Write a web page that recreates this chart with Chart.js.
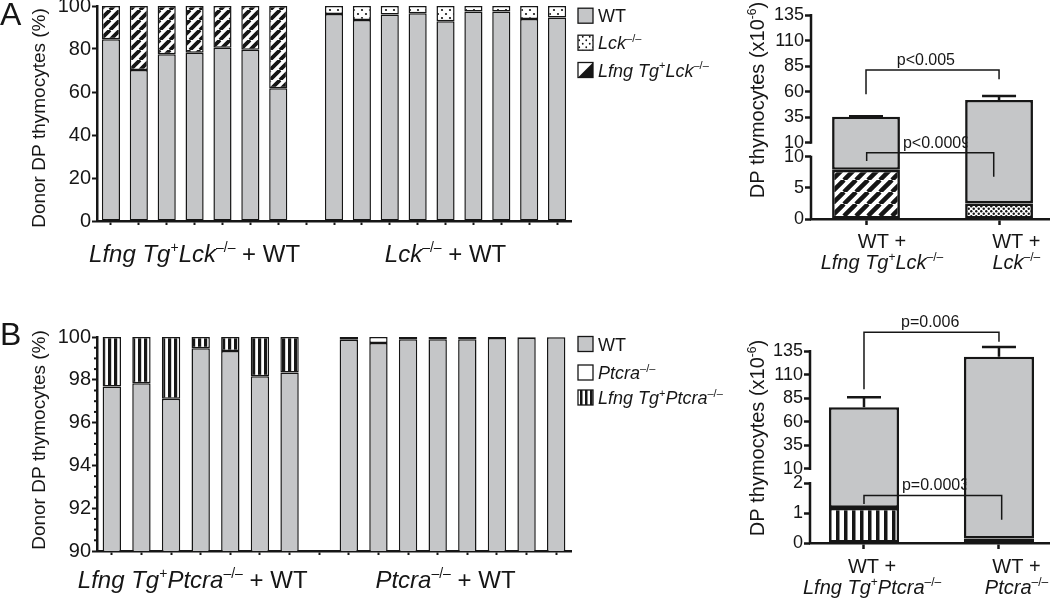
<!DOCTYPE html>
<html>
<head>
<meta charset="utf-8">
<title>Donor DP thymocytes</title>
<script src="https://cdn.jsdelivr.net/npm/chart.js@4.4.1/dist/chart.umd.min.js"></script>
<style>
  html, body { margin: 0; padding: 0; background: #fff; }
  #fig { position: relative; width: 1050px; height: 601px; overflow: hidden; }
  #fig canvas { position: absolute; }
</style>
</head>
<body>
<div id="fig">
  <canvas id="aLeft" width="760" height="290" style="left:0;top:0"></canvas>
  <canvas id="aRight" width="350" height="290" style="left:700px;top:0"></canvas>
  <canvas id="bLeft" width="760" height="311" style="left:0;top:290px"></canvas>
  <canvas id="bRight" width="350" height="311" style="left:700px;top:290px"></canvas>
</div>
<script>
// ---- panel A, left: % of donor DP thymocytes per mouse ----
const miceA = ['L1', 'L2', 'L3', 'L4', 'L5', 'L6', 'L7', '', 'K1', 'K2', 'K3', 'K4', 'K5', 'K6', 'K7', 'K8', 'K9'];
const wtLfngLck = [84.5, 70.2, 77.6, 78.3, 80.6, 79.6, 61.8];
const lfngLck = [15.5, 29.8, 22.4, 21.7, 19.4, 20.4, 38.2];
const wtLck = [96.3, 93.5, 96.0, 96.6, 92.9, 97.5, 97.5, 93.9, 94.6];
const lck = [3.7, 6.5, 4.0, 3.4, 7.1, 2.5, 2.5, 6.1, 5.4];

// ---- panel B, left ----
const miceB = ['L1', 'L2', 'L3', 'L4', 'L5', 'L6', 'L7', '', 'P1', 'P2', 'P3', 'P4', 'P5', 'P6', 'P7', 'P8'];
const wtLfngPtcra = [97.69, 97.84, 97.11, 99.47, 99.34, 98.17, 98.34];
const lfngPtcra = [2.31, 2.16, 2.89, 0.53, 0.66, 1.83, 1.66];
const wtPtcra = [99.87, 99.72, 99.9, 99.9, 99.9, 99.95, 99.97, 99.99];
const ptcra = [0.13, 0.28, 0.1, 0.1, 0.1, 0.05, 0.03, 0.01];

// ---- right panels: DP thymocyte numbers (x10^-6) ----
const xPos = [0, 1];
const wtCountA = [27.5, 49.3];
const lfngLckCount = [7.9, null];
const lckCount = [null, 2.5];
const errA = [0.4, 3.9];
const lowerTicksA = [0, 5, 10];
const upperTicksA = [10, 35, 60, 85, 110, 135];

const wtCountB = [74.2, 128.8];
const lfngPtcraCount = [1.17, null];
const ptcraCount = [null, 0.15];
const errB = [10.5, 10.2];
const lowerTicksB = [0, 1, 2];
const upperTicksB = [10, 35, 60, 85, 110, 135];

const FONT = '"Liberation Sans", Arial, Helvetica, sans-serif';
const GREY = '#c5c6c8';
const INK = '#161616';

Chart.defaults.font.family = FONT;
Chart.defaults.color = INK;
Chart.defaults.animation = false;

// y scale with a break: a lower and an upper linear piece
class BrokenScale extends Chart.LinearScale {
  segPixel(v, seg) {
    const s = this.options[seg];
    const h = this.bottom - this.top;
    if (seg === 'lower') return this.bottom - (v - s.min) / (s.max - s.min) * s.frac * h;
    return this.top + (s.max - v) / (s.max - s.min) * s.frac * h;
  }
  getPixelForValue(v) {
    const lo = this.options.lower, up = this.options.upper;
    if (v <= lo.max) return this.segPixel(v, 'lower');
    if (v >= up.min) return this.segPixel(v, 'upper');
    const a = this.segPixel(lo.max, 'lower'), b = this.segPixel(up.min, 'upper');
    return a + (b - a) * (v - lo.max) / (up.min - lo.max);
  }
  getPixelForTick(i) {
    const t = this.ticks[i];
    if (!t) return null;
    return t.seg ? this.segPixel(t.value, t.seg) : this.getPixelForValue(t.value);
  }
}
BrokenScale.id = 'broken';
BrokenScale.defaults = Chart.LinearScale.defaults;
Chart.register(BrokenScale);

function hatch(period, lw) {
  const c = document.createElement('canvas');
  c.width = c.height = period;
  const g = c.getContext('2d');
  g.fillStyle = '#fff';
  g.fillRect(0, 0, period, period);
  g.strokeStyle = INK;
  g.lineWidth = lw;
  g.beginPath();
  for (const o of [-period, 0, period]) {
    g.moveTo(o, period);
    g.lineTo(o + period, 0);
  }
  g.stroke();
  return g.createPattern(c, 'repeat');
}

function dots(period, r) {
  const c = document.createElement('canvas');
  c.width = c.height = period;
  const g = c.getContext('2d');
  g.fillStyle = '#fff';
  g.fillRect(0, 0, period, period);
  g.fillStyle = INK;
  for (const [x, y] of [[period / 4, period / 4], [period * 3 / 4, period * 3 / 4]]) {
    g.beginPath();
    g.arc(x, y, r, 0, Math.PI * 2);
    g.fill();
  }
  return g.createPattern(c, 'repeat');
}

function vstripes(period, w) {
  const c = document.createElement('canvas');
  c.width = period;
  c.height = 4;
  const g = c.getContext('2d');
  g.fillStyle = '#fff';
  g.fillRect(0, 0, period, 4);
  g.fillStyle = INK;
  g.fillRect(0, 0, w, 4);
  return g.createPattern(c, 'repeat');
}

// text with italic and superscript runs
function fontFor(style, size) {
  const sup = style.includes('s');
  return (style.includes('i') ? 'italic ' : '') + (sup ? Math.round(size * 0.6) : size) + 'px ' + FONT;
}

function drawRich(ctx, parts, x, y, size, align) {
  ctx.save();
  ctx.textAlign = 'left';
  ctx.textBaseline = 'alphabetic';
  ctx.fillStyle = INK;
  const widths = parts.map(([t, st]) => {
    ctx.font = fontFor(st, size);
    return ctx.measureText(t).width;
  });
  const total = widths.reduce((a, b) => a + b, 0);
  let cx = align === 'center' ? x - total / 2 : align === 'right' ? x - total : x;
  parts.forEach(([t, st], i) => {
    ctx.font = fontFor(st, size);
    ctx.fillText(t, cx, st.includes('s') ? y - size * 0.4 : y);
    cx += widths[i];
  });
  ctx.restore();
}

function drawRotated(ctx, parts, x, y, size) {
  ctx.save();
  ctx.translate(x, y);
  ctx.rotate(-Math.PI / 2);
  drawRich(ctx, parts, 0, 0, size, 'center');
  ctx.restore();
}

const LFNG_LCK = [['Lfng Tg', 'i'], ['+', 's'], ['Lck', 'i'], ['\u2013/\u2013', 's']];
const LCK = [['Lck', 'i'], ['\u2013/\u2013', 's']];
const LFNG_PTCRA = [['Lfng Tg', 'i'], ['+', 's'], ['Ptcra', 'i'], ['\u2013/\u2013', 's']];
const PTCRA = [['Ptcra', 'i'], ['\u2013/\u2013', 's']];
const TITLE_LEFT = [['Donor DP thymocytes (%)', 'n']];
const TITLE_RIGHT = [['DP thymocytes (x10', 'n'], ['-6', 's'], [')', 'n']];

function legendBox(ctx, x, y, s, kind) {
  ctx.save();
  ctx.fillStyle = kind === 'grey' ? GREY : kind === 'dots' ? dots(7, 0.9) : kind === 'stripes' ? vstripes(5, 2.5) : '#fff';
  ctx.fillRect(x, y, s, s);
  if (kind === 'tri') {
    ctx.fillStyle = INK;
    ctx.beginPath();
    ctx.moveTo(x + s, y);
    ctx.lineTo(x + s, y + s);
    ctx.lineTo(x, y + s);
    ctx.closePath();
    ctx.fill();
  }
  ctx.strokeStyle = INK;
  ctx.lineWidth = 1.3;
  ctx.strokeRect(x, y, s, s);
  ctx.restore();
}

function leftDecor(letter, letterY, titleY, groups, labelY, legend, legendYs, minor) {
  return {
    id: 'leftDecor' + letter,
    afterDraw(chart) {
      const ctx = chart.ctx;
      const xs = chart.scales.x, ys = chart.scales.y;
      ctx.save();
      ctx.fillStyle = INK;
      ctx.font = '32px ' + FONT;
      ctx.fillText(letter, 0, letterY);
      ctx.restore();
      drawRotated(ctx, TITLE_LEFT, 45, titleY, 19);
      groups.forEach(g => {
        const cx = (xs.getPixelForValue(g.from) + xs.getPixelForValue(g.to)) / 2 + g.dx;
        drawRich(ctx, g.parts, cx, labelY, 24, 'center');
      });
      legend.forEach((item, i) => {
        legendBox(ctx, 578, legendYs[i] - 7.5, 15, item.kind);
        drawRich(ctx, item.parts, 598, legendYs[i] + 6.5, 18, 'left');
      });
      if (minor) {
        ctx.save();
        ctx.strokeStyle = INK;
        ctx.lineWidth = 2;
        minor.forEach(v => {
          const y = ys.getPixelForValue(v);
          ctx.beginPath();
          ctx.moveTo(ys.right - 3, y);
          ctx.lineTo(ys.right, y);
          ctx.stroke();
        });
        ctx.restore();
      }
    }
  };
}

function rightDecor(name, totals, errs, brackets, labels, titleY) {
  const at = (ys, v) => Array.isArray(v) ? ys.segPixel(v[0], v[1]) : ys.getPixelForValue(v);
  return {
    id: 'rightDecor' + name,
    beforeDatasetsDraw(chart) {
      const ctx = chart.ctx, xs = chart.scales.x, ys = chart.scales.y;
      ctx.save();
      ctx.fillStyle = INK;
      ctx.font = '16px ' + FONT;
      ctx.textAlign = 'center';
      brackets.forEach(b => ctx.fillText(b.text, xs.getPixelForValue(b.tx), at(ys, b.y) - 5));
      ctx.restore();
    },
    afterDatasetsDraw(chart) {
      const ctx = chart.ctx, xs = chart.scales.x, ys = chart.scales.y;
      ctx.save();
      ctx.strokeStyle = INK;
      ctx.lineWidth = 1.5;
      brackets.forEach(b => {
        const x1 = xs.getPixelForValue(b.x1), x2 = xs.getPixelForValue(b.x2);
        const y = at(ys, b.y);
        ctx.beginPath();
        ctx.moveTo(x1, at(ys, b.leftEnd));
        ctx.lineTo(x1, y);
        ctx.lineTo(x2, y);
        ctx.lineTo(x2, at(ys, b.rightEnd));
        ctx.stroke();
      });
      // error bars (upper half only)
      ctx.lineWidth = 2.5;
      totals().forEach((t, i) => {
        const x = xs.getPixelForValue(xPos[i]);
        const y0 = ys.getPixelForValue(t), y1 = ys.getPixelForValue(t + errs[i]);
        ctx.beginPath();
        ctx.moveTo(x, y0);
        ctx.lineTo(x, y1);
        ctx.moveTo(x - 17, y1);
        ctx.lineTo(x + 17, y1);
        ctx.stroke();
      });
      ctx.restore();
    },
    afterDraw(chart) {
      const ctx = chart.ctx, xs = chart.scales.x, ys = chart.scales.y;
      const o = ys.options;
      ctx.save();
      ctx.strokeStyle = INK;
      ctx.lineWidth = 2.5;
      ctx.beginPath();
      ctx.moveTo(ys.right, ys.segPixel(o.lower.min, 'lower') + 1);
      ctx.lineTo(ys.right, ys.segPixel(o.lower.max, 'lower') - 1);
      ctx.moveTo(ys.right, ys.segPixel(o.upper.min, 'upper') + 1);
      ctx.lineTo(ys.right, ys.segPixel(o.upper.max, 'upper') - 1);
      ctx.stroke();
      ctx.restore();
      drawRotated(ctx, TITLE_RIGHT, 64, titleY, 20);
      labels.forEach(l => {
        const cx = xs.getPixelForValue(l.x);
        drawRich(ctx, [['WT +', 'n']], cx, l.y1, 20, 'center');
        drawRich(ctx, l.parts, cx, l.y2, 20, 'center');
      });
    }
  };
}

function catAxis() {
  return {
    stacked: true,
    ticks: { display: false },
    grid: { offset: false, drawOnChartArea: false, tickLength: 4, tickWidth: 2, color: INK },
    border: { width: 2.5, color: INK },
    afterFit: s => { s.height = 10; s.paddingLeft = 0; s.paddingRight = 0; }
  };
}

function pctAxis(min, step) {
  return {
    stacked: true, min: min, max: 100,
    ticks: { stepSize: step, font: { size: 20 }, padding: 1, color: INK },
    grid: { drawOnChartArea: false, tickLength: 5, tickWidth: 2, color: INK },
    border: { width: 2.5, color: INK },
    afterFit: s => { s.width = 97; s.paddingTop = 0; s.paddingBottom = 0; }
  };
}

function linAxis(min, max) {
  return {
    type: 'linear', stacked: true, min: min, max: max, offset: false,
    afterBuildTicks: s => { s.ticks = xPos.map(v => ({ value: v })); },
    ticks: { display: false },
    grid: { offset: false, drawOnChartArea: false, tickLength: 6, tickWidth: 2.5, color: INK },
    border: { width: 2.5, color: INK },
    afterFit: s => { s.height = 10; s.paddingLeft = 0; s.paddingRight = 0; }
  };
}

function brokenAxis(lower, upper, lowTicks, upTicks, width) {
  return {
    type: 'broken', stacked: true, min: 0, max: upper.max, lower: lower, upper: upper,
    afterBuildTicks: s => {
      s.ticks = lowTicks.map(v => ({ value: v, seg: 'lower' })).concat(upTicks.map(v => ({ value: v, seg: 'upper' })));
    },
    ticks: { autoSkip: false, font: { size: 18 }, padding: 1, color: INK, callback: v => String(v) },
    grid: { drawOnChartArea: false, tickLength: 6, tickWidth: 2.5, color: INK },
    border: { display: false },
    afterFit: s => { s.width = width; s.paddingTop = 0; s.paddingBottom = 0; }
  };
}

const base = {
  responsive: false,
  devicePixelRatio: 1,
  events: [],
  plugins: { legend: { display: false }, tooltip: { enabled: false } }
};

// ---- A left ----
const padA = miceA.slice(0, 7).map(() => null);
const padK = wtLck.map(() => null);
new Chart(document.getElementById('aLeft'), {
  type: 'bar',
  data: {
    labels: miceA,
    datasets: [
      { label: 'WT', data: [...wtLfngLck, null, ...wtLck], backgroundColor: GREY },
      { label: 'Lfng Tg+Lck-/-', data: [...lfngLck, null, ...padK], backgroundColor: hatch(10, 3.8) },
      { label: 'Lck-/-', data: [...padA, null, ...lck], backgroundColor: dots(8, 1.1) }
    ]
  },
  options: {
    ...base,
    layout: { padding: { left: 0, top: 6, right: 189, bottom: 59 } },
    datasets: { bar: { borderColor: INK, borderWidth: 1.5, borderSkipped: false, categoryPercentage: 1, barPercentage: 0.65 } },
    scales: { x: catAxis(), y: pctAxis(0, 20) }
  },
  plugins: [leftDecor('A', 25, 118,
    [{ from: 0, to: 6, dx: 0, parts: [...LFNG_LCK, [' + WT', 'n']] },
     { from: 8, to: 16, dx: 0, parts: [...LCK, [' + WT', 'n']] }],
    262,
    [{ kind: 'grey', parts: [['WT', 'n']] }, { kind: 'dots', parts: LCK }, { kind: 'tri', parts: LFNG_LCK }],
    [15.7, 42.7, 70], null)]
});

// ---- B left ----
const padL = miceB.slice(0, 7).map(() => null);
const padP = wtPtcra.map(() => null);
const minorB = [90.5, 91, 91.5, 92.5, 93, 93.5, 94.5, 95, 95.5, 96.5, 97, 97.5, 98.5, 99, 99.5];
new Chart(document.getElementById('bLeft'), {
  type: 'bar',
  data: {
    labels: miceB,
    datasets: [
      { label: 'WT', data: [...wtLfngPtcra, null, ...wtPtcra], backgroundColor: GREY },
      { label: 'Lfng Tg+Ptcra-/-', data: [...lfngPtcra, null, ...padP], backgroundColor: vstripes(6, 3.2) },
      { label: 'Ptcra-/-', data: [...padL, null, ...ptcra], backgroundColor: '#fff' }
    ]
  },
  options: {
    ...base,
    layout: { padding: { left: 0, top: 47, right: 189, bottom: 40 } },
    datasets: { bar: { borderColor: INK, borderWidth: 1.5, borderSkipped: false, categoryPercentage: 1, barPercentage: 0.62 } },
    scales: { x: catAxis(), y: pctAxis(90, 2) }
  },
  plugins: [leftDecor('B', 55, 150,
    [{ from: 0, to: 6, dx: -8, parts: [...LFNG_PTCRA, [' + WT', 'n']] },
     { from: 8, to: 15, dx: -7, parts: [...PTCRA, [' + WT', 'n']] }],
    298,
    [{ kind: 'grey', parts: [['WT', 'n']] }, { kind: 'white', parts: PTCRA }, { kind: 'stripes', parts: LFNG_PTCRA }],
    [54, 82.5, 107.5], minorB)]
});

// ---- A right ----
const pts = arr => xPos.map((x, i) => ({ x: x, y: arr[i] }));
const sum = (...arrs) => () => xPos.map((_, i) => arrs.reduce((s, a) => s + (a[i] || 0), 0));
new Chart(document.getElementById('aRight'), {
  type: 'bar',
  data: {
    datasets: [
      { label: 'Lfng Tg+Lck-/-', data: pts(lfngLckCount), backgroundColor: hatch(12, 4.5) },
      { label: 'Lck-/-', data: pts(lckCount), backgroundColor: dots(5, 1.2) },
      { label: 'WT', data: pts(wtCountA), backgroundColor: GREY }
    ]
  },
  options: {
    ...base,
    layout: { padding: { left: 0, top: 15, right: 0, bottom: 61 } },
    datasets: { bar: { borderColor: INK, borderWidth: 2.6, borderSkipped: false, categoryPercentage: 1, barPercentage: 0.51 } },
    scales: {
      x: linAxis(-0.4135, 1.383),
      y: brokenAxis({ min: 0, max: 10, frac: 0.305 }, { min: 10, max: 135, frac: 0.626 }, lowerTicksA, upperTicksA, 111)
    }
  },
  plugins: [rightDecor('A', sum(lfngLckCount, lckCount, wtCountA), errA,
    [{ text: 'p<0.005', tx: 0.45, x1: 0, x2: 1, y: 81.2, leftEnd: 57.4, rightEnd: 72 },
     { text: 'p<0.0009', tx: 0.53, x1: 0.005, x2: 0.96, y: [10.64, 'lower'], leftEnd: 9.31, rightEnd: 6.79 }],
    [{ x: 0.12, y1: 248, y2: 269, parts: LFNG_LCK }, { x: 1.13, y1: 248, y2: 269, parts: LCK }],
    100)]
});

// ---- B right ----
new Chart(document.getElementById('bRight'), {
  type: 'bar',
  data: {
    datasets: [
      { label: 'Lfng Tg+Ptcra-/-', data: pts(lfngPtcraCount), backgroundColor: vstripes(8, 3.5) },
      { label: 'Ptcra-/-', data: pts(ptcraCount), backgroundColor: '#fff' },
      { label: 'WT', data: pts(wtCountB), backgroundColor: GREY }
    ]
  },
  options: {
    ...base,
    layout: { padding: { left: 0, top: 61, right: 0, bottom: 48 } },
    datasets: { bar: { borderColor: INK, borderWidth: 2.6, borderSkipped: false, categoryPercentage: 1, barPercentage: 0.52 } },
    scales: {
      x: linAxis(-0.4, 1.378),
      y: brokenAxis({ min: 0, max: 2, frac: 0.312 }, { min: 10, max: 135, frac: 0.614 }, lowerTicksB, upperTicksB, 110)
    }
  },
  plugins: [rightDecor('B', sum(lfngPtcraCount, ptcraCount, wtCountB), errB,
    [{ text: 'p=0.006', tx: 0.49, x1: 0, x2: 1, y: 154.8, leftEnd: 94.4, rightEnd: 144.9 },
     { text: 'p=0.0003', tx: 0.53, x1: 0, x2: 1.02, y: 1.587, leftEnd: 1.3, rightEnd: 0.78 }],
    [{ x: 0.06, y1: 283, y2: 304, parts: LFNG_PTCRA }, { x: 1.13, y1: 283, y2: 304, parts: PTCRA }],
    148)]
});
</script>
</body>
</html>
